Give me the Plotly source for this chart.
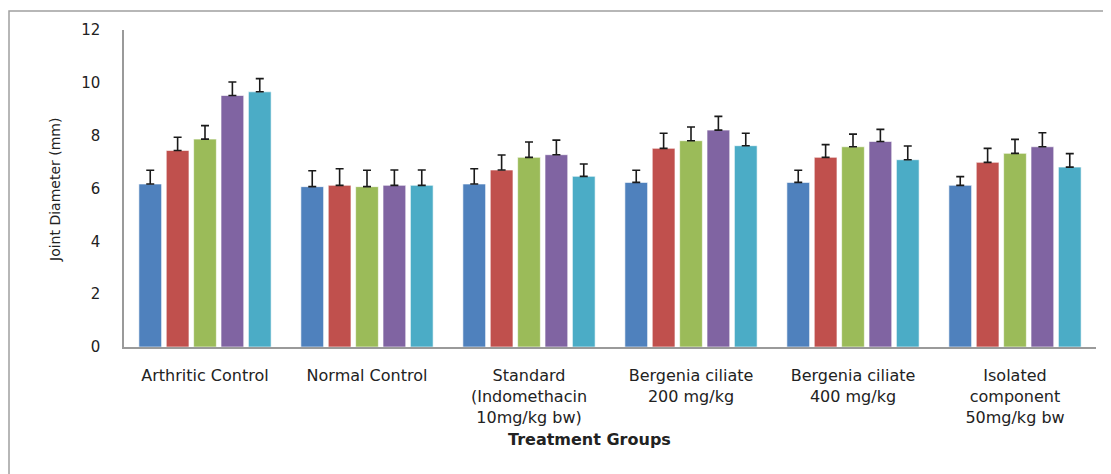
import plotly.graph_objects as go

categories = ["Arthritic Control", "Normal Control",
              "Standard<br>(Indomethacin<br>10mg/kg bw)",
              "Bergenia ciliate<br>200 mg/kg", "Bergenia ciliate<br>400 mg/kg",
              "Isolated<br>component<br>50mg/kg bw"]
series_names = ["Series 1", "Series 2", "Series 3", "Series 4", "Series 5"]
s1 = [6.17, 6.07, 6.17, 6.23, 6.23, 6.12]
s2 = [7.44, 6.12, 6.70, 7.52, 7.18, 6.99]
s3 = [7.87, 6.07, 7.18, 7.81, 7.58, 7.33]
s4 = [9.52, 6.12, 7.28, 8.21, 7.78, 7.58]
s5 = [9.66, 6.12, 6.46, 7.62, 7.09, 6.81]
e1 = [0.52, 0.60, 0.58, 0.46, 0.46, 0.33]
e2 = [0.50, 0.63, 0.57, 0.57, 0.48, 0.53]
e3 = [0.51, 0.62, 0.58, 0.52, 0.48, 0.53]
e4 = [0.51, 0.58, 0.55, 0.52, 0.46, 0.53]
e5 = [0.50, 0.58, 0.47, 0.47, 0.52, 0.51]
colors = ["#4F81BD", "#C0504D", "#9BBB59", "#8064A2", "#4BACC6"]
yticks = [0, 2, 4, 6, 8, 10, 12]

# page body has an 8px margin: size the figure so the plot lands where the reference has it
OFF = 8
W, H = 1111 - OFF, 474 - OFF
L, R, T, B = 124 - OFF, 15, 30 - OFF, 127
PW = W - L - R
PH = H - T - B


def px_x(px):
    return (px - OFF - L) / PW


def px_y(py):
    return (H - B - (py - OFF)) / PH


fig = go.Figure()
for name, vals, errs, c in zip(series_names, [s1, s2, s3, s4, s5],
                               [e1, e2, e3, e4, e5], colors):
    fig.add_trace(go.Bar(
        x=categories, y=vals, name=name,
        marker=dict(color=c, line=dict(color="rgba(255,255,255,0.6)", width=1)),
        error_y=dict(type="data", array=errs, symmetric=False,
                     arrayminus=[0]*len(errs), color="#1a1a1a",
                     thickness=1.6, width=4),
    ))

fig.update_layout(
    width=W, height=H,
    margin=dict(l=L, r=R, t=T, b=B),
    paper_bgcolor="white", plot_bgcolor="white",
    barmode="group", bargap=0.155, bargroupgap=0.17,
    showlegend=False,
    font=dict(family="DejaVu Sans", size=14, color="#222222"),
    xaxis=dict(showline=True, linecolor="#9a9a9a", linewidth=1.5,
               ticks="outside", ticklen=13, tickcolor="rgba(0,0,0,0)",
               tickfont=dict(family="DejaVu Sans", size=16, color="#222222"),
               showgrid=False, zeroline=False),
    yaxis=dict(range=[0, 12], tickvals=yticks, showline=True,
               linecolor="#9a9a9a", linewidth=1.5,
               ticks="outside", ticklen=19, tickcolor="rgba(0,0,0,0)",
               tickfont=dict(family="DejaVu Sans", size=15, color="#222222"),
               showgrid=False, zeroline=False),
)

fig.add_annotation(text="Joint Diameter (mm)", xref="paper", yref="paper",
                   x=px_x(55), y=px_y(190), textangle=-90, showarrow=False,
                   xanchor="center", yanchor="middle",
                   font=dict(family="DejaVu Sans", size=14, color="#222222"))
fig.add_annotation(text="<b>Treatment Groups</b>", xref="paper", yref="paper",
                   x=px_x(589), y=px_y(439), showarrow=False,
                   xanchor="center", yanchor="middle",
                   font=dict(family="DejaVu Sans", size=16, color="#222222"))

fig.add_shape(type="rect", xref="paper", yref="paper",
              x0=px_x(9), x1=px_x(1140),
              y0=px_y(520), y1=px_y(11),
              line=dict(color="#a0a0a0", width=1.5), layer="below")

fig.write_html("out.html")
